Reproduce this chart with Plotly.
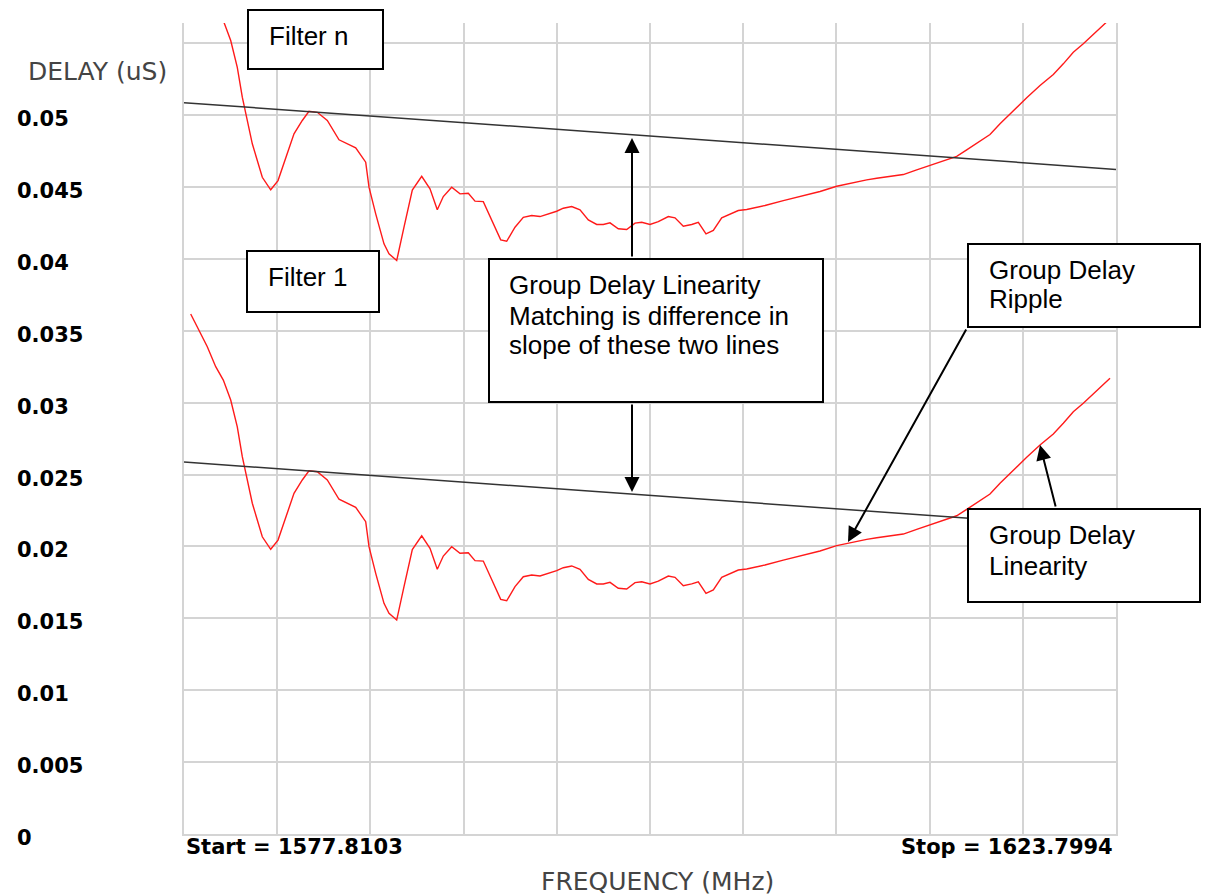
import plotly.graph_objects as go

# ---------------- data ----------------
START_MHZ = 1577.8103
STOP_MHZ = 1623.7994

FREQ_MHZ = [1578.141, 1578.550, 1578.960, 1579.375, 1579.750, 1580.115, 1580.440, 1580.687, 1580.855, 1581.181,
            1581.674, 1582.089, 1582.449, 1582.829, 1583.238, 1583.648, 1583.978, 1584.388, 1584.881, 1585.459,
            1585.868, 1586.283, 1586.776, 1586.939, 1587.270, 1587.679, 1587.926, 1588.306, 1588.666, 1589.076,
            1589.540, 1589.949, 1590.309, 1590.606, 1591.020, 1591.430, 1591.839, 1592.170, 1592.579, 1592.994,
            1593.438, 1593.734, 1594.144, 1594.553, 1594.968, 1595.377, 1595.787, 1596.201, 1596.527, 1596.941,
            1597.351, 1597.761, 1598.175, 1598.501, 1598.831, 1599.241, 1599.655, 1600.065, 1600.396, 1600.805,
            1601.215, 1601.708, 1602.039, 1602.448, 1602.863, 1603.188, 1603.568, 1603.929, 1604.343, 1604.753,
            1605.162, 1605.577, 1606.480, 1607.383, 1608.537, 1609.194, 1610.018, 1610.674, 1611.498, 1611.992,
            1612.648, 1613.304, 1613.965, 1614.785, 1615.446, 1615.939, 1616.433, 1616.758, 1617.582, 1618.076,
            1618.732, 1619.393, 1620.050, 1620.706, 1621.199, 1621.693, 1622.186, 1622.847, 1623.504]

DELAY_FILTER_N = [0.06116, 0.06005, 0.05889, 0.05750, 0.05657, 0.05518, 0.05332, 0.05124, 0.05008, 0.04800,
                  0.04567, 0.04480, 0.04544, 0.04707, 0.04869, 0.04962, 0.05026, 0.05019, 0.04962, 0.04828,
                  0.04800, 0.04772, 0.04672, 0.04498, 0.04313, 0.04104, 0.04035, 0.03988, 0.04220, 0.04478,
                  0.04574, 0.04487, 0.04341, 0.04433, 0.04498, 0.04452, 0.04456, 0.04401, 0.04398, 0.04266,
                  0.04132, 0.04122, 0.04220, 0.04289, 0.04301, 0.04294, 0.04313, 0.04331, 0.04352, 0.04364,
                  0.04341, 0.04271, 0.04239, 0.04239, 0.04250, 0.04209, 0.04204, 0.04248, 0.04254, 0.04239,
                  0.04259, 0.04294, 0.04285, 0.04227, 0.04239, 0.04254, 0.04174, 0.04197, 0.04285, 0.04308,
                  0.04336, 0.04343, 0.04371, 0.04405, 0.04447, 0.04468, 0.04505, 0.04526, 0.04549, 0.04560,
                  0.04572, 0.04586, 0.04619, 0.04656, 0.04688, 0.04713, 0.04758, 0.04788, 0.04864, 0.04939,
                  0.05031, 0.05120, 0.05205, 0.05282, 0.05356, 0.05437, 0.05495, 0.05583, 0.05669]

DELAY_FILTER_1 = [0.03616, 0.03505, 0.03389, 0.03250, 0.03157, 0.03018, 0.02832, 0.02624, 0.02508, 0.02300,
                  0.02067, 0.01980, 0.02044, 0.02207, 0.02369, 0.02462, 0.02526, 0.02519, 0.02462, 0.02328,
                  0.02300, 0.02272, 0.02172, 0.01998, 0.01813, 0.01604, 0.01535, 0.01488, 0.01720, 0.01978,
                  0.02074, 0.01987, 0.01841, 0.01933, 0.01998, 0.01952, 0.01956, 0.01901, 0.01898, 0.01766,
                  0.01632, 0.01622, 0.01720, 0.01789, 0.01801, 0.01794, 0.01813, 0.01831, 0.01852, 0.01864,
                  0.01841, 0.01771, 0.01739, 0.01739, 0.01750, 0.01709, 0.01704, 0.01748, 0.01754, 0.01739,
                  0.01759, 0.01794, 0.01785, 0.01727, 0.01739, 0.01754, 0.01674, 0.01697, 0.01785, 0.01808,
                  0.01836, 0.01843, 0.01871, 0.01905, 0.01947, 0.01968, 0.02005, 0.02026, 0.02049, 0.02060,
                  0.02072, 0.02086, 0.02119, 0.02156, 0.02188, 0.02213, 0.02258, 0.02288, 0.02364, 0.02439,
                  0.02531, 0.02620, 0.02705, 0.02782, 0.02856, 0.02937, 0.02995, 0.03083, 0.03169]

FIT_FREQ = [START_MHZ, STOP_MHZ]
FIT_FILTER_N = [0.05086, 0.04622]
FIT_FILTER_1 = [0.02587, 0.02122]

Y_TICK_VALUES = [0.05, 0.045, 0.04, 0.035, 0.03, 0.025, 0.02, 0.015, 0.01, 0.005, 0]
Y_TICK_LABELS = ["0.05", "0.045", "0.04", "0.035", "0.03", "0.025", "0.02", "0.015", "0.01", "0.005", "0"]
X_DIVISIONS = 10

# ---------------- layout helpers ----------------
# the page body has an 8px margin, so the figure is placed at (8, 8) in the window
OFF = 8
W, H = 1210 - 2 * OFF, 896 - OFF
PLOT_L, PLOT_R, PLOT_T, PLOT_B = 184, 1116, 23, 834   # window pixels of the plot area
ML = PLOT_L - OFF
MT = PLOT_T - OFF
PW = PLOT_R - PLOT_L
PH = PLOT_B - PLOT_T
MR = W - ML - PW
MB = H - MT - PH


def px(x):
    return (x - PLOT_L) / PW


def py(y):
    return (PLOT_B - y) / PH


GRID = "#d4d4d4"
BOX_FONT = dict(family="Liberation Sans, Arial, sans-serif", size=26, color="black")
TICK_FONT = dict(family="DejaVu Sans, Verdana, sans-serif", size=21, color="black", weight="bold")
TITLE_FONT = dict(family="DejaVu Sans, Verdana, sans-serif", size=25, color="#444444")

fig = go.Figure()
fig.add_trace(go.Scatter(x=FREQ_MHZ, y=DELAY_FILTER_N, mode="lines", name="Filter n",
                         line=dict(color="#ff1a1a", width=1.4)))
fig.add_trace(go.Scatter(x=FREQ_MHZ, y=DELAY_FILTER_1, mode="lines", name="Filter 1",
                         line=dict(color="#ff1a1a", width=1.4)))
fig.add_trace(go.Scatter(x=FIT_FREQ, y=FIT_FILTER_N, mode="lines", name="Fit n",
                         line=dict(color="#333333", width=1.5)))
fig.add_trace(go.Scatter(x=FIT_FREQ, y=FIT_FILTER_1, mode="lines", name="Fit 1",
                         line=dict(color="#333333", width=1.5)))

step = (STOP_MHZ - START_MHZ) / X_DIVISIONS
x_ticks = [START_MHZ + i * step for i in range(X_DIVISIONS + 1)]

annotations = []
# y tick labels (left aligned)
for v, lab in zip(Y_TICK_VALUES, Y_TICK_LABELS):
    annotations.append(dict(text=lab, xref="paper", yref="y", x=px(15), y=v, xanchor="left",
                            yanchor="middle", yshift=-4, showarrow=False, font=TICK_FONT))
# axis titles
annotations.append(dict(text="DELAY (uS)", xref="paper", yref="paper", x=px(26), y=py(72),
                        xanchor="left", yanchor="middle", showarrow=False, font=TITLE_FONT))
annotations.append(dict(text="FREQUENCY (MHz)", xref="paper", yref="paper", x=px(657), y=py(881),
                        xanchor="center", yanchor="middle", showarrow=False, font=TITLE_FONT))
annotations.append(dict(text=f"Start = {START_MHZ:.4f}", xref="paper", yref="paper", x=px(184), y=py(847),
                        xanchor="left", yanchor="middle", showarrow=False, font=TICK_FONT))
annotations.append(dict(text=f"Stop = {STOP_MHZ:.4f}", xref="paper", yref="paper", x=px(1115), y=py(847),
                        xanchor="right", yanchor="middle", showarrow=False, font=TICK_FONT))

# boxes (window pixels)
boxes = [(248, 10, 383, 69), (247, 251, 379, 312), (489, 259, 823, 402),
         (968, 244, 1200, 327), (968, 509, 1200, 602)]
shapes = []
for x0, y0, x1, y1 in boxes:
    shapes.append(dict(type="rect", xref="paper", yref="paper", x0=px(x0), x1=px(x1), y0=py(y0), y1=py(y1),
                       line=dict(color="black", width=2), fillcolor="white", layer="above"))

box_texts = [("Filter n", 267, 36), ("Filter 1", 266, 277),
             ("Group Delay Linearity", 507, 285), ("Matching is difference in", 507, 316),
             ("slope of these two lines", 507, 345),
             ("Group Delay", 987, 270), ("Ripple", 987, 299),
             ("Group Delay", 987, 535), ("Linearity", 987, 566)]
for t, x, y in box_texts:
    annotations.append(dict(text=t, xref="paper", yref="paper", x=px(x), y=py(y), xanchor="left",
                            yanchor="middle", showarrow=False, font=BOX_FONT))

# arrows: (head_x, head_y, tail_x, tail_y) in window pixels
arrows = [(632, 138, 632, 258), (632, 492, 632, 403), (848, 542, 967, 328), (1040, 445, 1056, 508)]
for hx, hy, tx, ty in arrows:
    annotations.append(dict(text="", xref="paper", yref="paper", x=px(hx), y=py(hy),
                            ax=tx - hx, ay=ty - hy, showarrow=True, arrowhead=2, arrowsize=1.5,
                            arrowwidth=2, arrowcolor="black", standoff=0))

fig.update_layout(
    width=W, height=H,
    margin=dict(l=ML, r=MR, t=MT, b=MB, pad=0),
    paper_bgcolor="white", plot_bgcolor="white",
    showlegend=False,
    xaxis=dict(range=[START_MHZ, STOP_MHZ], tickvals=x_ticks, showticklabels=False, ticks="",
               showgrid=True, gridcolor=GRID, gridwidth=1.5, zeroline=False,
               showline=True, linecolor=GRID, linewidth=1.5, mirror=False),
    yaxis=dict(range=[0, 0.0564], tick0=0, dtick=0.005, showticklabels=False, ticks="",
               showgrid=True, gridcolor=GRID, gridwidth=1.5, zeroline=False,
               showline=True, linecolor=GRID, linewidth=1.5, mirror=True),
    annotations=annotations,
    shapes=shapes,
)

fig.write_html("out.html")
